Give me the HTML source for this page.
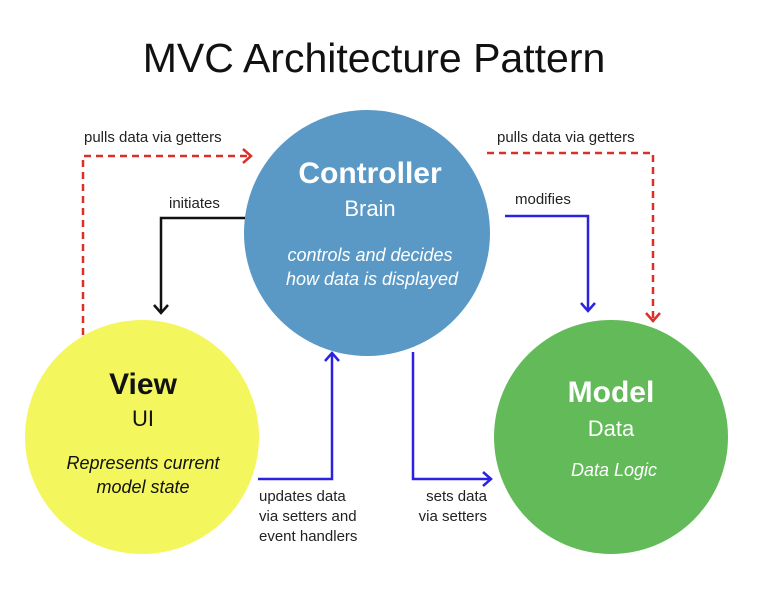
<!DOCTYPE html>
<html><head><meta charset="utf-8"><style>
body{margin:0;background:#fff;}
svg{display:block;font-family:"Liberation Sans",sans-serif;}
</style></head><body>
<svg width="779" height="608" viewBox="0 0 779 608">
<rect width="779" height="608" fill="#fff"/>
<text x="374" y="72" font-size="41" text-anchor="middle" fill="#111">MVC Architecture Pattern</text>
<circle cx="367" cy="233" r="123" fill="#5a99c6"/>
<circle cx="142" cy="437" r="117" fill="#f4f65e"/>
<circle cx="611" cy="437" r="117" fill="#62bb58"/>
<g fill="none" stroke-width="2.5">
<path d="M83 335 V156 H250" stroke="#d9302a" stroke-dasharray="7,5"/>
<path d="M243 149 L251 156 L243 163" stroke="#d9302a"/>
<path d="M487 153 H653 V320" stroke="#d9302a" stroke-dasharray="7,5"/>
<path d="M646 313 L653 321 L660 313" stroke="#d9302a"/>
<path d="M245 218 H161 V312" stroke="#111"/>
<path d="M154 305 L161 313 L168 305" stroke="#111"/>
<path d="M505 216 H588 V310" stroke="#2a22e0"/>
<path d="M581 303 L588 311 L595 303" stroke="#2a22e0"/>
<path d="M258 479 H332 V354" stroke="#2a22e0"/>
<path d="M325 361 L332 353 L339 361" stroke="#2a22e0"/>
<path d="M413 352 V479 H490" stroke="#2a22e0"/>
<path d="M483 472 L491 479 L483 486" stroke="#2a22e0"/>
</g>
<g font-size="15" fill="#222">
<text x="84" y="142">pulls data via getters</text>
<text x="169" y="208">initiates</text>
<text x="497" y="142">pulls data via getters</text>
<text x="515" y="204">modifies</text>
<text x="259" y="501">updates data</text>
<text x="259" y="521">via setters and</text>
<text x="259" y="541">event handlers</text>
<text x="487" y="501" text-anchor="end">sets data</text>
<text x="487" y="521" text-anchor="end">via setters</text>
</g>
<g fill="#fff" text-anchor="middle">
<text x="370" y="183" font-size="30" font-weight="bold">Controller</text>
<text x="370" y="216" font-size="22">Brain</text>
<text x="370" y="261" font-size="18" font-style="italic">controls and decides</text>
<text x="372" y="285" font-size="18" font-style="italic">how data is displayed</text>
<text x="611" y="402" font-size="30" font-weight="bold">Model</text>
<text x="611" y="436" font-size="22">Data</text>
<text x="614" y="476" font-size="18" font-style="italic">Data Logic</text>
</g>
<g fill="#111" text-anchor="middle">
<text x="143" y="394" font-size="30" font-weight="bold">View</text>
<text x="143" y="426" font-size="22">UI</text>
<text x="143" y="469" font-size="18" font-style="italic">Represents current</text>
<text x="143" y="493" font-size="18" font-style="italic">model state</text>
</g>
</svg>
</body></html>
